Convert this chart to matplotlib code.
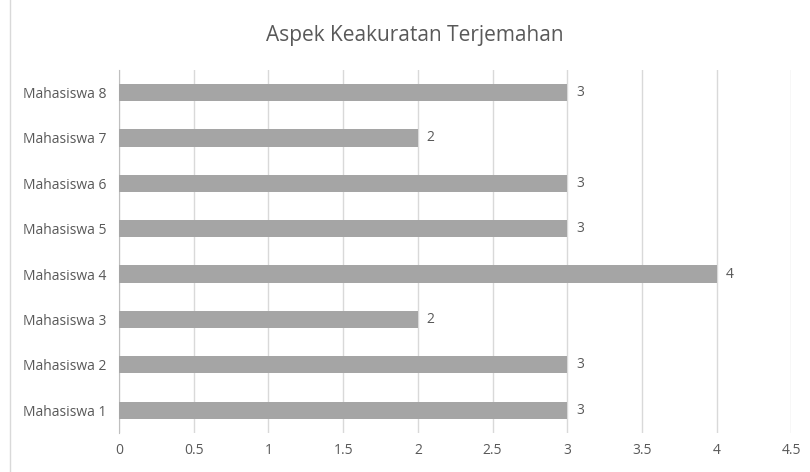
import matplotlib.pyplot as plt
from matplotlib.patches import Rectangle

students = ["Mahasiswa 1", "Mahasiswa 2", "Mahasiswa 3", "Mahasiswa 4",
            "Mahasiswa 5", "Mahasiswa 6", "Mahasiswa 7", "Mahasiswa 8"]
scores = [3, 3, 2, 4, 3, 3, 2, 3]
x_ticks = [0, 0.5, 1, 1.5, 2, 2.5, 3, 3.5, 4, 4.5]

text_color = "#595959"
plt.rcParams["font.family"] = ["Open Sans", "DejaVu Sans"]

fig = plt.figure(figsize=(8.1, 4.72), dpi=100)
ax = fig.add_axes([0.147, 0.083, 0.83, 0.769])

# outer chart frame
fig.patches.append(Rectangle((10 / 810, -0.01), 1.0, 1.02, transform=fig.transFigure,
                             fill=False, edgecolor="#d9d9d9", linewidth=1))

y = range(len(students))
ax.barh(y, scores, height=0.38, color="#a5a5a5", zorder=3)
for yi, v in zip(y, scores):
    ax.text(v + 0.06, yi, str(v), va="center", ha="left", fontsize=10, color=text_color)

ax.set_xlim(0, 4.5)
ax.set_ylim(-0.5, len(students) - 0.5)
ax.set_xticks(x_ticks)
ax.set_xticklabels([f"{t:g}" for t in x_ticks])
ax.set_yticks(list(y))
ax.set_yticklabels(students)
ax.tick_params(axis="both", length=0, labelsize=10, colors=text_color)
ax.tick_params(axis="x", pad=7)
ax.tick_params(axis="y", pad=9)
ax.grid(axis="x", color="#d9d9d9", linewidth=1, zorder=0)
for side in ["top", "right", "bottom"]:
    ax.spines[side].set_visible(False)
ax.spines["left"].set_color("#bfbfbf")

fig.text(0.512, 0.925, "Aspek Keakuratan Terjemahan", ha="center", va="center",
         fontsize=15, color=text_color)

fig.savefig("out.png", dpi=100)
